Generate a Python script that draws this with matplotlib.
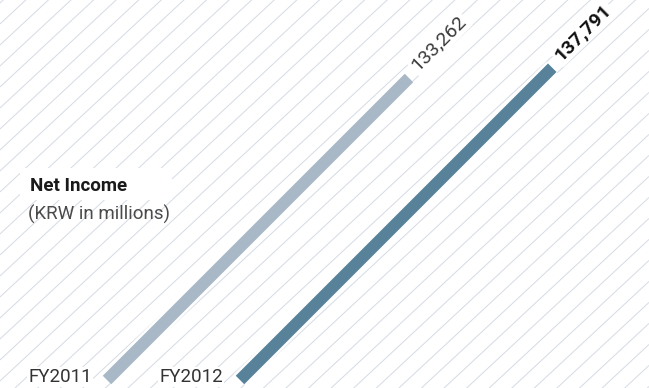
import numpy as np
import matplotlib
matplotlib.use("Agg")
import matplotlib.pyplot as plt
from matplotlib.patches import Rectangle

# ---- data ----
years = ["FY2011", "FY2012"]
values = [133262, 137791]
value_labels = ["133,262", "137,791"]
title = "Net Income"
subtitle = "(KRW in millions)"

# ---- styles / layout ----
bar_colors = ["#a9b8c6", "#58829a"]
label_colors = ["#3a3a3a", "#111111"]
label_weights = ["normal", "bold"]
bar_start_x = [107, 240]
year_label_x = [92, 223]
bar_start_y = 380
px_per_unit = 302 / 133262.0
W, H = 649, 388
DPI = 100
PT = 72.0 / DPI  # points per pixel

plt.rcParams['font.family'] = ['Roboto', 'DejaVu Sans']

fig = plt.figure(figsize=(W / DPI, H / DPI), dpi=DPI)
ax = fig.add_axes([0, 0, 1, 1])
ax.set_xlim(0, W)
ax.set_ylim(H, 0)
ax.axis('off')

# hatch background
slope = 0.93
spacing = 21
for c in np.arange(3 - 40 * spacing, H + slope * W + spacing, spacing):
    xs = np.array([0, W])
    ys = c - slope * xs
    ax.plot(xs, ys, color="#d6dce4", lw=1.0 * PT, zorder=1, solid_capstyle='butt')

# white panel behind title
ax.add_patch(Rectangle((20, 168), 152, 32, facecolor='white', edgecolor='none', zorder=2))

# bars
for i, v in enumerate(values):
    x0 = bar_start_x[i]
    y0 = bar_start_y
    x1 = x0 + v * px_per_unit
    y1 = y0 - v * px_per_unit
    ax.plot([x0, x1], [y0, y1], color='white', lw=17 * PT, solid_capstyle='butt', zorder=3)
    ax.plot([x0, x1], [y0, y1], color=bar_colors[i], lw=12 * PT, solid_capstyle='butt', zorder=4)
    ax.text(x1 + 5, y1 - 10, value_labels[i], rotation=45, rotation_mode='anchor',
            ha='left', va='center', fontsize=14, color=label_colors[i],
            fontweight=label_weights[i], zorder=5,
            bbox=dict(facecolor='white', edgecolor='none', pad=1.5))
    ax.text(year_label_x[i], 377, years[i], ha='right', va='center', fontsize=13.5,
            color='#333333', zorder=5,
            bbox=dict(facecolor='white', edgecolor='none', pad=1.0))

ax.text(30, 186, title, ha='left', va='center', fontsize=13.5, fontweight='bold',
        color='#1a1a1a', zorder=5)
ax.text(28, 214, subtitle, ha='left', va='center', fontsize=13.5, fontweight='normal',
        color='#4a4a4a', zorder=5)

fig.savefig("out.png", dpi=DPI)
